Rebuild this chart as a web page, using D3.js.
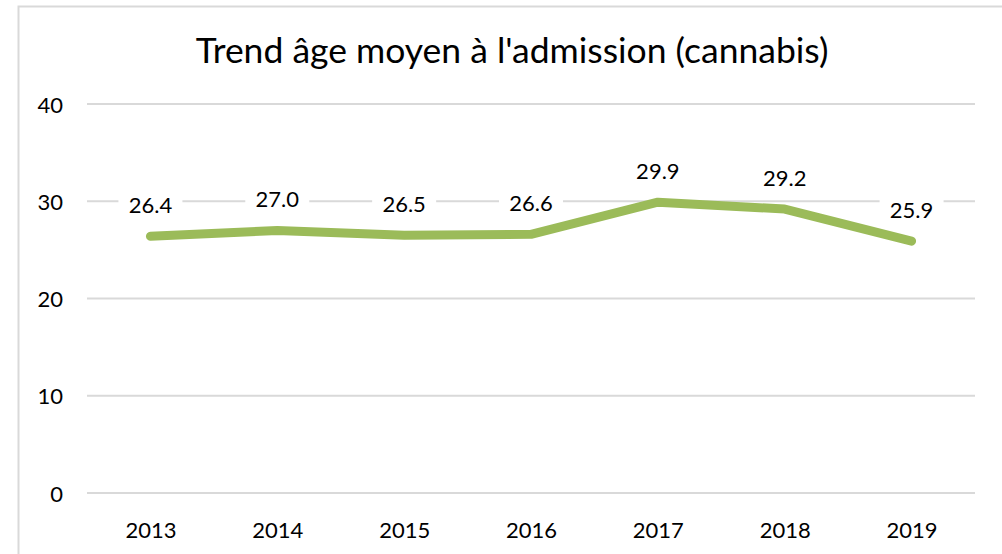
<!DOCTYPE html>
<html>
<head>
<meta charset="utf-8">
<script src="https://cdn.jsdelivr.net/npm/d3@7"></script>
<style>
  body { margin: 0; background: #fff; }
  text { font-family: Lato, "Open Sans", sans-serif; fill: #000; }
</style>
</head>
<body>
<div id="container"></div>
<script>
const years = ["2013", "2014", "2015", "2016", "2017", "2018", "2019"];
const ages = [26.4, 27.0, 26.5, 26.6, 29.9, 29.2, 25.9];
const yTicks = [0, 10, 20, 30, 40];

const w = 1002, h = 554;
const plotLeft = 87, plotRight = 975, plotTop = 104, plotBottom = 493;

const svg = d3.select("#container").append("svg")
  .attr("width", w).attr("height", h);

// chart border
svg.append("rect")
  .attr("x", 18.5).attr("y", 6.5)
  .attr("width", 1010).attr("height", 600)
  .attr("fill", "none").attr("stroke", "#d9d9d9").attr("stroke-width", 2);

svg.append("text")
  .attr("x", 512).attr("y", 63)
  .attr("text-anchor", "middle")
  .style("font-size", "35.5px")
  .text("Trend âge moyen à l'admission (cannabis)");

const x = d3.scalePoint().domain(years).range([plotLeft, plotRight]).padding(0.5);
const y = d3.scaleLinear().domain([0, 40]).range([plotBottom, plotTop]);

// gridlines
svg.append("g").selectAll("line")
  .data(yTicks).enter().append("line")
  .attr("x1", plotLeft).attr("x2", plotRight)
  .attr("y1", d => y(d)).attr("y2", d => y(d))
  .attr("stroke", "#d9d9d9").attr("stroke-width", 2);

// y axis labels
const yAxis = d3.axisLeft(y).tickValues(yTicks).tickSize(0).tickPadding(0);
svg.append("g").attr("transform", "translate(63,1)").call(yAxis)
  .call(g => g.select(".domain").remove())
  .selectAll("text").style("font-size", "22px")
  .style("font-family", "Lato, 'Open Sans', sans-serif");

// x axis labels
const xAxis = d3.axisBottom(x).tickSize(0).tickPadding(0);
svg.append("g").attr("transform", "translate(0,522)").call(xAxis)
  .call(g => g.select(".domain").remove())
  .selectAll("text").style("font-size", "22px")
  .style("font-family", "Lato, 'Open Sans', sans-serif");

// line
const line = d3.line().x((d, i) => x(years[i])).y(d => y(d));
svg.append("path").datum(ages)
  .attr("d", line)
  .attr("fill", "none").attr("stroke", "#9bbb59")
  .attr("stroke-width", 9)
  .attr("stroke-linecap", "round").attr("stroke-linejoin", "round");

// data labels with white background
const lab = svg.append("g").selectAll("g")
  .data(ages).enter().append("g")
  .attr("transform", (d, i) => "translate(" + x(years[i]) + "," + (y(d) - 23) + ")");
lab.append("rect")
  .attr("x", -32).attr("y", -20).attr("width", 64).attr("height", 28)
  .attr("fill", "#fff");
lab.append("text")
  .attr("text-anchor", "middle")
  .style("font-size", "22px")
  .text(d => d.toFixed(1));
</script>
</body>
</html>
